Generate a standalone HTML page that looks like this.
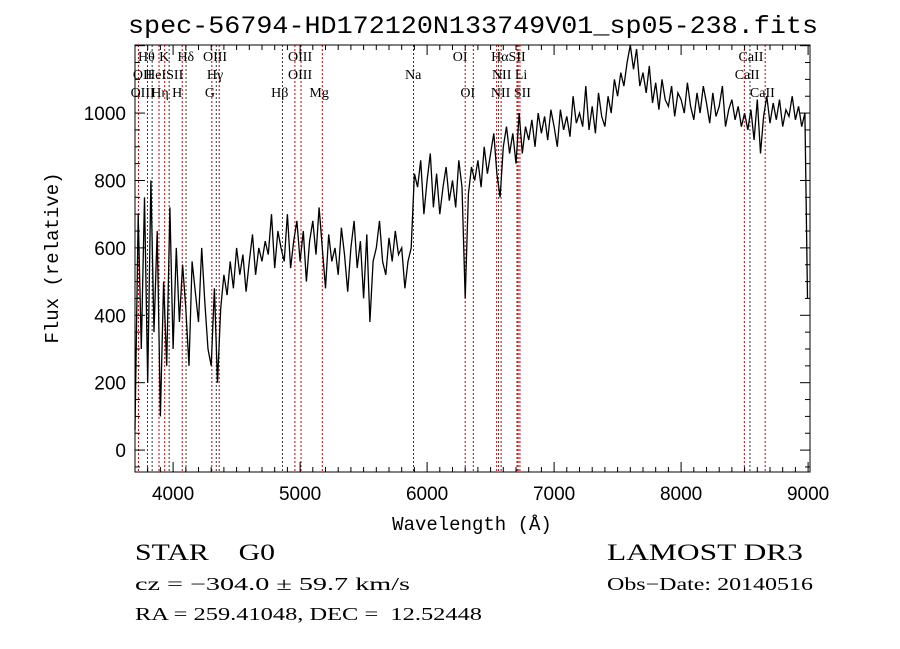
<!DOCTYPE html>
<html><head><meta charset="utf-8"><style>
html,body{margin:0;padding:0;background:#fff;width:900px;height:649px;overflow:hidden}
svg{display:block}
text{font-family:"Liberation Serif",serif;fill:#000;white-space:pre}
</style></head><body>
<svg id="chart" width="900" height="649" viewBox="0 0 900 649" xmlns="http://www.w3.org/2000/svg" xml:space="preserve">
<rect width="900" height="649" fill="#fff"/>
<text x="128" y="33" font-size="25" textLength="690" lengthAdjust="spacingAndGlyphs" style="font-family:'Liberation Mono',monospace">spec-56794-HD172120N133749V01_sp05-238.fits</text>
<g id="lines"></g>
<g id="spec"></g>
<g id="axes"></g>
<text x="472" y="530" font-size="19" text-anchor="middle" style="font-family:'Liberation Mono',monospace">Wavelength (Å)</text>
<text transform="translate(58,258) rotate(-90)" font-size="19" text-anchor="middle" style="font-family:'Liberation Mono',monospace">Flux (relative)</text>
<text x="135" y="560" font-size="23" textLength="140" lengthAdjust="spacingAndGlyphs">STAR    G0</text>
<text x="607" y="560" font-size="23" textLength="196" lengthAdjust="spacingAndGlyphs">LAMOST DR3</text>
<text x="135" y="590" font-size="18" textLength="275" lengthAdjust="spacingAndGlyphs">cz = −304.0 ± 59.7 km/s</text>
<text x="607" y="590" font-size="18" textLength="206" lengthAdjust="spacingAndGlyphs">Obs−Date: 20140516</text>
<text x="135" y="620" font-size="18" textLength="347" lengthAdjust="spacingAndGlyphs">RA = 259.41048, DEC =  12.52448</text>
</svg>
<script>
const waveStart = 3700;
const waveStep = 25;
const fluxValues = [
60,700,300,750, 200,800,350,650, 100,500,250,720, 300,600,380,550,
420,250,560,470, 380,600,440,300, 250,480,200,420, 520,460,560,480,
600,520,580,470, 560,640,520,600, 560,620,580,700, 540,650,600,560,
700,540,620,680, 560,650,500,620, 680,580,720,600, 480,640,560,600,
520,660,580,470, 600,680,540,620, 450,640,380,560, 600,680,560,520,
630,560,650,580, 600,480,560,600, 820,780,860,700, 800,880,720,820,
700,780,840,740, 800,720,860,780, 450,760,840,800, 860,780,900,820,
880,940,820,750, 900,960,880,940, 850,1000,880,960, 920,980,900,1000,
940,990,920,1010, 960,900,1010,950, 990,930,1050,970, 1000,960,1080,950,
1020,940,1060,990, 960,1050,1000,1100, 1050,1120,1080,1150, 1210,1130,1190,1080,
1120,1060,1140,1030, 1090,1010,1100,1040, 1020,1080,990,1060, 1040,1000,1090,1020,
980,1060,1000,1080, 1030,970,1060,990, 1020,1080,960,1010, 1040,980,1020,960,
1000,950,1010,920, 1040,880,990,1050, 970,1030,980,1040, 960,1010,990,1050,
980,1020,960,1000, 450
];
const xTicks = [4000,5000,6000,7000,8000,9000];
const yTicks = [0,200,400,600,800,1000];
const lineWaves = [3727,3798,3835,3889,3934,3969,4072,4102,4305,4340,4363,4861,4959,5007,5175,5893,6300,6364,6548,6563,6583,6708,6717,6731,8498,8542,8662];
const lineBalmer = [0,1,1,0,0,1,0,1,0,1,0,1,0,0,0,1,0,0,0,1,0,0,0,0,0,1,0];
const labelTexts = ["Hθ","K","Hδ","OIII","OIII","OI","HαSII","CaII","OII","HeISII","Hγ","OIII","Na","NII Li","CaII","OIII","Hη H","G","Hβ","Mg","OI","NII SII","CaII"];
const labelWaves = [3790,3930,4100,4330,5000,6260,6640,8550,3760,3930,4330,5000,5890,6650,8520,3760,3950,4290,4840,5150,6320,6660,8640];
const labelRows = [0,0,0,0,0,0,0,0,1,1,1,1,1,1,1,2,2,2,2,2,2,2,2];

const L=135,R=810,T=45,B=472, XMIN=3700, XMAX=9015, YMIN=-65, YMAX=1202;
const sx=w=>L+(w-XMIN)/(XMAX-XMIN)*(R-L);
const sy=f=>B-(f-YMIN)/(YMAX-YMIN)*(B-T);
const NS="http://www.w3.org/2000/svg";
function mk(tag,attrs,parent){const e=document.createElementNS(NS,tag);for(const k in attrs)e.setAttribute(k,attrs[k]);parent.appendChild(e);return e;}

const lg=document.getElementById('lines');
lineWaves.forEach((w,i)=>{
  const e=mk('line',{x1:sx(w),x2:sx(w),y1:T,y2:B,stroke:lineBalmer[i]?'#333':'#c00000','stroke-width':1,'stroke-dasharray':'2,2'},lg);
  
  
});
labelTexts.forEach((t,i)=>{
  const e=mk('text',{x:sx(labelWaves[i]),y:61+labelRows[i]*18,'font-size':14,'text-anchor':'middle'},lg);
  e.textContent=t;
  
  
});

const sg=document.getElementById('spec');
let d='';
fluxValues.forEach((f,i)=>{let w=waveStart+i*waveStep; if(i===fluxValues.length-1)w=8995; d+=(i?'L':'M')+sx(w).toFixed(1)+' '+Math.max(T,sy(f)).toFixed(1);});
const p=mk('path',{d:d,fill:'none',stroke:'#000','stroke-width':1.3},sg);



const ax=document.getElementById('axes');
const frame=mk('rect',{x:L,y:T,width:R-L,height:B-T,fill:'none',stroke:'#000','stroke-width':1},ax);


for(let w=3700;w<=9000;w+=100){
  const major=w%1000===0, len=major?10:5;
  mk('line',{x1:sx(w),x2:sx(w),y1:B,y2:B-len,stroke:'#000'},ax);
  mk('line',{x1:sx(w),x2:sx(w),y1:T,y2:T+len,stroke:'#000'},ax);
}
for(let f=-50;f<=1200;f+=50){
  const major=f%200===0, len=major?10:5;
  mk('line',{x1:L,x2:L+len,y1:sy(f),y2:sy(f),stroke:'#000'},ax);
  mk('line',{x1:R,x2:R-len,y1:sy(f),y2:sy(f),stroke:'#000'},ax);
}
xTicks.forEach(w=>{
  const e=mk('text',{x:sx(w),y:500,'font-size':19,'text-anchor':'middle',style:"font-family:'Liberation Sans',sans-serif"},ax);
  e.textContent=w;
  
  
});
yTicks.forEach(f=>{
  const e=mk('text',{x:126,y:sy(f)+7,'font-size':19,'text-anchor':'end',style:"font-family:'Liberation Sans',sans-serif"},ax);
  e.textContent=f;
  
  
});
</script>
</body></html>
